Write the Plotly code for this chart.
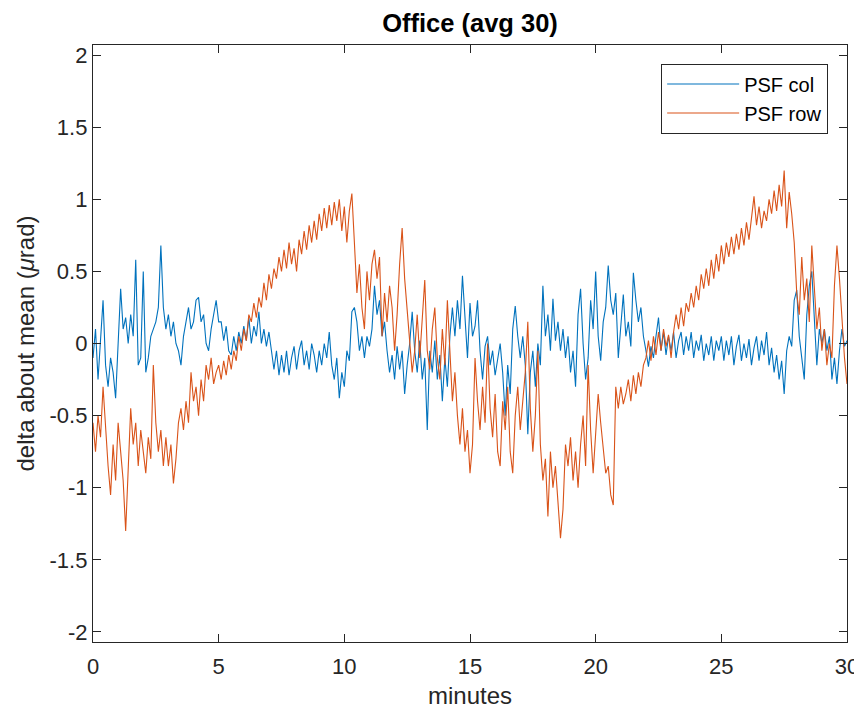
import numpy as np
import plotly.graph_objects as go

# time axis in minutes (one reading every 0.1 min)
minutes = [round(i * 0.1, 1) for i in range(301)]

psf_col = [
    -0.10, 0.10, -0.25, 0.05, 0.30, -0.15, -0.30, -0.10, -0.20, -0.38,
    0.00, 0.38, 0.10, 0.18, 0.00, 0.20, 0.05, 0.58, -0.15, -0.10,
    0.50, -0.20, -0.10, 0.05, 0.10, 0.15, 0.25, 0.68, 0.25, 0.10,
    0.20, 0.05, 0.15, 0.00, -0.05, -0.15, 0.05, 0.15, 0.25, 0.10,
    0.15, 0.30, 0.32, 0.15, 0.20, 0.00, -0.05, 0.10, 0.20, 0.30,
    0.15,
    0.15, 0.02, 0.12, -0.05, -0.08, 0.05, -0.05, 0.08, 0.00, 0.12,
    0.02, 0.18, 0.00, 0.12, 0.05, 0.22, 0.00, 0.10, -0.02, 0.08,
    -0.05, -0.18, -0.05, -0.22, -0.08, -0.20, -0.05, -0.22, -0.10, -0.02,
    -0.18, -0.05, 0.02, -0.15, -0.05, -0.18, 0.00, -0.08, -0.20, -0.05,
    -0.15, 0.00, -0.10, 0.08, -0.15, -0.25, -0.10, -0.38, -0.20, -0.30,
    -0.05, -0.12, 0.22, 0.25, 0.15, -0.05, 0.05, -0.10, 0.05, -0.02,
    0.10, 0.40, 0.20, 0.30, 0.05, 0.15, -0.05, -0.20, -0.08, -0.25,
    -0.02, -0.18, -0.05, -0.35, -0.15, 0.00, 0.22, -0.05, -0.20, 0.02,
    -0.25, -0.10, -0.60, -0.05, -0.20, 0.02, -0.25, -0.08, -0.40, -0.10,
    -0.30, 0.05, 0.25, 0.05, 0.30, 0.10, 0.47, 0.15, -0.10, 0.28,
    0.05, 0.12, 0.30, -0.05, -0.25, -0.02, 0.05, -0.15, -0.05, -0.22,
    -0.10, 0.00, -0.20, -0.50, -0.15, -0.35, 0.10, 0.26, 0.05, -0.10,
    0.05, -0.15, -0.63, -0.20, -0.05, -0.30, 0.00, -0.15, 0.40, 0.05,
    0.20, -0.05, 0.31, 0.02, 0.15, -0.05, 0.10, -0.10, 0.05, -0.20,
    -0.05, -0.30, 0.20, 0.38, 0.00, -0.25, -0.10, 0.30, 0.10, 0.50,
    0.05, -0.12, 0.15, 0.25, 0.54, 0.30, 0.20, 0.35, -0.10, 0.10,
    0.34, 0.05, 0.15, -0.02, 0.49, 0.30, 0.15, 0.25, 0.05, -0.05,
    -0.16, -0.02, -0.10, 0.05, 0.18, -0.05, 0.08, -0.08, 0.05, -0.05,
    0.08, -0.10, 0.02, 0.08, -0.08, 0.05, -0.05, 0.08, -0.10, 0.02,
    -0.05, 0.06, -0.12, 0.00, -0.08, 0.05, -0.12, 0.02, -0.05, 0.05,
    -0.12, 0.02, -0.08, 0.05, -0.15, -0.02, 0.06, -0.12, 0.00, -0.10,
    0.03, -0.15, -0.03, 0.05, -0.12, 0.02, -0.08, 0.08, -0.15, -0.03,
    -0.20, -0.08, -0.25, -0.12, -0.35, -0.05, 0.05, -0.02, 0.30, 0.37,
    0.05, -0.10, -0.25, 0.20, 0.40, 0.50, 0.15, -0.15, 0.10, 0.00,
    0.10, -0.05, 0.05, -0.25, -0.10, -0.28, -0.05, 0.10, -0.02, 0.02,
]

psf_row = [
    -0.55, -0.75, -0.50, -0.65, -0.30, -0.60, -0.85, -1.05, -0.70, -0.95,
    -0.55, -0.75, -0.95, -1.30, -0.85, -0.45, -0.70, -0.55, -0.85, -0.60,
    -0.75, -0.90, -0.65, -0.80, -0.15, -0.55, -0.75, -0.60, -0.85, -0.65,
    -0.85, -0.70, -0.97, -0.80, -0.55, -0.45, -0.60, -0.40, -0.55, -0.20,
    -0.40, -0.30, -0.50, -0.25, -0.40, -0.15, -0.25, -0.10, -0.28, -0.20,
    -0.15,
    -0.25, -0.12, -0.22, -0.08, -0.18, -0.05, -0.12, 0.05, -0.05, 0.10,
    0.02, 0.20, 0.15, 0.28, 0.18, 0.32, 0.25, 0.42, 0.30, 0.48,
    0.38, 0.52, 0.45, 0.60, 0.50, 0.65, 0.52, 0.70, 0.55, 0.66,
    0.50, 0.72, 0.62, 0.78, 0.65, 0.82, 0.70, 0.85, 0.72, 0.90,
    0.78, 0.94, 0.80, 0.96, 0.82, 0.98, 0.85, 1.00, 0.78, 0.95,
    0.70, 0.92, 1.04, 0.70, 0.35, 0.55, 0.25, 0.10, 0.50, 0.30,
    0.55, 0.65, 0.45, 0.60, 0.05, 0.35, 0.15, 0.40, 0.25, -0.05,
    0.20, 0.55, 0.80, 0.45, 0.25, 0.00, -0.20, -0.05, 0.20, -0.10,
    0.20, 0.44, -0.05, -0.18, 0.10, 0.25, -0.10, -0.25, 0.10, -0.15,
    0.30, -0.05, -0.40, -0.20, -0.50, -0.70, -0.45, -0.75, -0.60, -0.90,
    -0.70, -0.10, -0.40, -0.60, -0.30, -0.55, 0.00, -0.45, -0.65, -0.35,
    -0.75, -0.85, -0.40, -0.60, -0.30, -0.75, -0.90, -0.50, -0.30, -0.60,
    -0.40, -0.20, 0.15, -0.45, -0.75, -0.50, -0.05, -0.70, -0.95, -0.80,
    -1.20, -0.75, -1.00, -0.85, -1.10, -1.35, -1.15, -0.70, -0.85, -0.65,
    -0.95, -0.75, -1.00, -0.70, -0.50, -0.85, -0.15, -0.60, -0.90, -0.65,
    -0.35, -0.55, -0.75, -0.90, -0.85, -1.05, -1.12, -0.30, -0.45, -0.30,
    -0.42, -0.35, -0.25, -0.40, -0.22, -0.35, -0.20, -0.30, -0.15, -0.10,
    0.02, -0.12, 0.05, -0.08, 0.08, -0.05, 0.10, -0.02, 0.06, -0.10,
    0.08, 0.20, 0.10, 0.25, 0.12, 0.28, 0.22, 0.35, 0.25, 0.40,
    0.30, 0.48, 0.38, 0.52, 0.40, 0.58, 0.45, 0.62, 0.50, 0.68,
    0.55, 0.70, 0.60, 0.74, 0.62, 0.76, 0.65, 0.80, 0.68, 0.84,
    0.72, 0.88, 1.02, 0.82, 0.95, 0.80, 0.92, 0.85, 1.00, 0.90,
    1.06, 0.92, 1.10, 0.95, 1.20, 0.80, 1.05, 0.90, 0.70, 0.35,
    0.20, 0.60, 0.30, 0.45, 0.15, 0.68, 0.35, 0.10, 0.25, -0.05,
    0.10, -0.15, 0.00, -0.10, 0.40, 0.68, 0.45, 0.15, -0.10, -0.28,
]

x_ticks = [0, 5, 10, 15, 20, 25, 30]
y_ticks = [-2, -1.5, -1, -0.5, 0, 0.5, 1, 1.5, 2]
y_tick_labels = ["-2", "-1.5", "-1", "-0.5", "0", "0.5", "1", "1.5", "2"]

FONT = "Liberation Sans, Arial, Helvetica, sans-serif"
AX = "#262626"

fig = go.Figure()
fig.add_trace(go.Scatter(x=minutes, y=psf_col, mode="lines", name="PSF col",
                         line=dict(color="#0072BD", width=1.1)))
fig.add_trace(go.Scatter(x=minutes, y=psf_row, mode="lines", name="PSF row",
                         line=dict(color="#D95319", width=1.1)))

axis_common = dict(showline=True, linecolor=AX, linewidth=1.3, mirror="ticks",
                   ticks="inside", ticklen=8, tickwidth=1.3, tickcolor=AX,
                   showgrid=False, zeroline=False, automargin=False,
                   tickfont=dict(family=FONT, size=22, color=AX))

# the page body adds an 8 px offset, so the figure is 854 x 703
fig.update_layout(
    width=854, height=703,
    margin=dict(l=85, r=15, t=36.5, b=69, autoexpand=False),
    paper_bgcolor="white", plot_bgcolor="white",
    font=dict(family=FONT, color=AX),
    title=dict(text="<b>Office (avg 30)</b>", xref="paper", x=0.5, xanchor="center",
               yref="container", y=1 - 15 / 703, yanchor="middle",
               font=dict(family=FONT, size=25.5, color="black")),
    xaxis=dict(range=[0, 30], tickvals=x_ticks,
               title=dict(text="minutes", font=dict(family=FONT, size=24, color=AX), standoff=9),
               ticklabelstandoff=4, **axis_common),
    yaxis=dict(range=[-2.07, 2.07], tickvals=y_ticks, ticktext=y_tick_labels,
               title=dict(text="delta about mean (<i>μ</i>rad)", font=dict(family=FONT, size=24, color=AX), standoff=8),
               ticklabelstandoff=0, **axis_common),
    showlegend=True,
    legend=dict(x=0.975, xanchor="right", y=0.969, yanchor="top",
                bgcolor="white", bordercolor=AX, borderwidth=1,
                font=dict(family=FONT, size=20, color="black"),
                itemwidth=72, tracegroupgap=0),
)

fig.write_html("out.html")
